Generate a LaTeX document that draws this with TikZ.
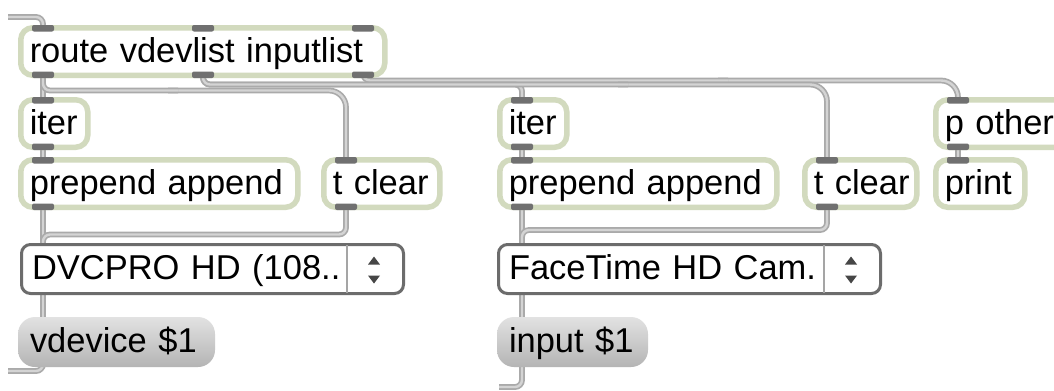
\documentclass[tikz,border=0pt]{standalone}
\usepackage{fontspec}
\setmainfont{Liberation Sans}
\usetikzlibrary{backgrounds,calc}

\definecolor{objedge}{RGB}{210,218,190}
\definecolor{portgray}{RGB}{112,112,112}
\definecolor{cordedge}{RGB}{170,170,170}
\definecolor{cordcore}{RGB}{212,212,212}
\definecolor{menuedge}{RGB}{108,108,108}
\definecolor{divgray}{RGB}{165,165,165}
\definecolor{arrowgray}{RGB}{70,70,70}
\definecolor{msgtop}{RGB}{226,226,226}
\definecolor{msgbot}{RGB}{180,180,180}

\tikzset{
  box/.style={anchor=north west, inner ysep=0pt, text height=24bp, text depth=3bp,
    align=left, font=\fontsize{34.6}{41}\selectfont},
  obj/.style={box, draw=objedge, line width=5.5bp, outer sep=2.75bp, fill=white,
    rounded corners=12bp, inner xsep=9bp, minimum height=47.5bp},
  menu/.style={box, draw=menuedge, line width=3bp, outer sep=1.5bp, fill=white,
    rounded corners=9bp, inner xsep=10.5bp, minimum height=49bp},
  msg/.style={box, draw=none, outer sep=0pt, top color=msgtop, bottom color=msgbot,
    rounded corners=17bp, inner xsep=12bp, minimum height=50bp},
  port/.style={fill=portgray, rounded corners=2bp},
  cord/.style={draw=cordedge, double=cordcore, double distance=2.4bp, line width=1.7bp,
    rounded corners=7bp},
  bigbend/.style={cord, rounded corners=17bp},
  divider/.style={draw=divgray, line width=2bp},
  spin/.style={fill=arrowgray},
}

% inlet / outlet bars, offset measured from the box's left edge
\newcommand\inlet[2]{\fill[port] ([xshift=#2bp]#1.north west) rectangle ++(22,6.5);}
\newcommand\outlet[2]{\fill[port] ([xshift=#2bp]#1.south west) rectangle ++(22,-6.5);}
% up/down arrows and divider of a popup menu
\newcommand\spinner[1]{%
  \draw[divider] ([xshift=327bp,yshift=-2bp]#1.north west) -- ([xshift=327bp,yshift=2bp]#1.south west);
  \fill[spin] ($(#1.north west)+(354,13.5)$) -- ++(-6,8) -- ++(12,0) -- cycle;
  \fill[spin] ($(#1.north west)+(354,40.5)$) -- ++(-6,-8) -- ++(12,0) -- cycle;}

\begin{document}
\begin{tikzpicture}[x=1bp,y=-1bp]
\useasboundingbox (0,0) rectangle (1054,390);

% objects
\node[obj, text width=346bp] (route) at (18,25) {route~vdevlist~inputlist};

\node[obj, text width=49bp]  (iter1) at (18,97)   {iter};
\node[obj, text width=259bp] (prep1) at (18,157)  {prepend~append};
\node[obj, text width=98bp]  (tclr1) at (321,157) {t~clear};
\node[menu, text width=361bp] (menu1) at (20,243) {DVCPRO~HD~(108..};
\node[msg, text width=173bp] (vdev) at (18,317) {vdevice~\$1};

\node[obj, text width=49bp]  (iter2) at (497,97)   {iter};
\node[obj, text width=259bp] (prep2) at (497,157)  {prepend~append};
\node[obj, text width=94bp]  (tclr2) at (802,157)  {t~clear};
\node[menu, text width=361bp] (menu2) at (497,243) {FaceTime~HD~Cam.};
\node[msg, text width=127bp] (input) at (497,317) {input~\$1};

\node[obj, text width=117bp] (pother) at (933,97)  {p~other};
\node[obj, text width=71bp]  (print)  at (933,157) {print};

\spinner{menu1}
\spinner{menu2}

% inlets and outlets
\inlet{route}{14} \inlet{route}{174} \inlet{route}{334}
\outlet{route}{14} \outlet{route}{174} \outlet{route}{334}
\foreach \n in {iter1,prep1,tclr1,iter2,prep2,tclr2,pother}{\inlet{\n}{14} \outlet{\n}{14}}
\inlet{print}{14}

% loose cord ends
\coordinate (srcin)  at (8,17);
\coordinate (sinkA)  at (8,371);
\coordinate (sinkB)  at (499,387);

\begin{pgfonlayer}{background}
\fill[white] (0,0) rectangle (1054,390);

\draw[cord] (srcin) -| ([xshift=25bp,yshift=-3bp]route.north west);

% first outlet of route: straight to iter, long bend to t clear
\draw[cord] ([xshift=25bp,yshift=5bp]route.south west) -- ([xshift=25bp,yshift=-3bp]iter1.north west);
\draw[bigbend] ([xshift=150bp,yshift=-12.5bp]route.south west)
  -| ([xshift=25bp,yshift=-3bp]tclr1.north west);
\draw[cord] ([xshift=25bp,yshift=5bp]route.south west)
  |- ([xshift=160bp,yshift=-12.5bp]route.south west);
\draw[cord] ([xshift=25bp,yshift=3bp]iter1.south west) -- ([xshift=25bp,yshift=-3bp]prep1.north west);
\draw[cord] ([xshift=25bp,yshift=3bp]prep1.south west) -- ([xshift=25bp,yshift=-2bp]prep1.south west |- menu1.north);
\draw[cord] ([xshift=25bp,yshift=3bp]tclr1.south west) -- ++(0,27.5)
  -| ([xshift=25bp,yshift=-2bp]prep1.south west |- menu1.north);
\draw[cord] ([xshift=25bp,yshift=2bp]prep1.south west |- menu1.south) -- ([xshift=25bp,yshift=-2bp]vdev.north west);
\draw[cord] ([xshift=25bp,yshift=8bp]vdev.south west) |- (sinkA);

% third outlet of route, to p other
\draw[bigbend] ([xshift=700bp,yshift=-2.5bp]route.south west)
  -| ([xshift=25bp,yshift=-3bp]pother.north west);
\draw[cord] ([xshift=345bp,yshift=5bp]route.south west)
  |- ([xshift=710bp,yshift=-2.5bp]route.south west);
\draw[cord] ([xshift=25bp,yshift=3bp]pother.south west) -- ([xshift=25bp,yshift=-3bp]print.north west);

% second outlet of route: to iter and, with a long bend, to t clear
\draw[bigbend] ([xshift=600bp,yshift=-6.5bp]route.south west)
  -| ([xshift=25bp,yshift=-3bp]tclr2.north west);
\draw[cord] ([xshift=185bp,yshift=5bp]route.south west) -- ++(0,11.5)
  -| ([xshift=25bp,yshift=-3bp]iter2.north west);
\draw[cord] ([xshift=185bp,yshift=5bp]route.south west)
  |- ([xshift=610bp,yshift=-6.5bp]route.south west);
\draw[cord] ([xshift=25bp,yshift=3bp]iter2.south west) -- ([xshift=25bp,yshift=-3bp]prep2.north west);
\draw[cord] ([xshift=25bp,yshift=3bp]prep2.south west) -- ([xshift=25bp,yshift=-2bp]prep2.south west |- menu2.north);
\draw[cord] ([xshift=25bp,yshift=3bp]tclr2.south west) -- ++(0,23)
  -| ([xshift=25bp,yshift=-2bp]prep2.south west |- menu2.north);
\draw[cord] ([xshift=25bp,yshift=2bp]prep2.south west |- menu2.south) -- ([xshift=25bp,yshift=-2bp]input.north west);
\draw[cord] ([xshift=25bp,yshift=8bp]input.south west) |- (sinkB);
\end{pgfonlayer}
\end{tikzpicture}
\end{document}
